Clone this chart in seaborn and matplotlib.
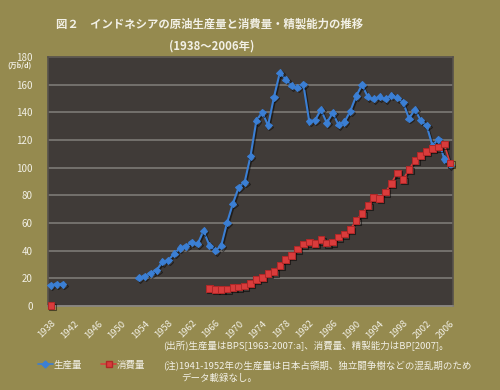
import numpy as np
import pandas as pd
import matplotlib
matplotlib.use("Agg")
import matplotlib.pyplot as plt
import matplotlib.patheffects as pe
from matplotlib.lines import Line2D
import seaborn as sns

# data (万b/d)
years = list(range(1938, 2007))

production = [15.2, 15.9, 15.7] + [None] * 12 + [
    20.4, 21.7, 23.6, 26.0, 32.0, 33.2, 38.0, 42.0, 43.3, 46.2,
    45.0, 54.4, 43.8, 40.0, 43.6, 60.2, 74.1, 86.0, 89.5, 108.3,
    134.0, 140.0, 130.5, 151.0, 168.7, 163.7, 159.3, 157.9, 160.3, 133.6,
    134.3, 142.0, 132.3, 139.6, 130.9, 133.0, 140.8, 151.8, 159.8, 151.1,
    149.7, 151.1, 149.7, 152.1, 150.4, 147.3, 135.5, 142.0, 134.3, 130.5,
    116.0, 120.6, 106.3, 102.0]

consumption = [0.5] + [None] * 26 + [
    12.8, 12.0, 12.0, 12.5, 13.5, 13.9, 14.6, 16.6, 19.3, 20.7,
    23.6, 24.8, 29.4, 33.7, 36.6, 41.2, 45.0, 46.4, 45.3, 47.9,
    45.7, 46.4, 50.0, 52.2, 55.4, 61.9, 66.9, 72.7, 78.5, 77.8,
    82.4, 88.8, 96.2, 91.5, 98.7, 105.4, 109.0, 111.9, 113.9, 115.0,
    117.0, 103.5]

xtick_years = list(range(1938, 2007, 4))

title1 = "図２　インドネシアの原油生産量と消費量・精製能力の推移"
title2 = "(1938～2006年)"
note_src = "(出所)生産量はBPS[1963-2007:a]、消費量、精製能力はBP[2007]。"
note1 = "(注)1941-1952年の生産量は日本占領期、独立闘争樹などの混乱期のため"
note2 = "データ載録なし。"

sns.set_style("white")
plt.rcParams["font.family"] = ["Noto Sans CJK JP", "DejaVu Sans"]

bg = "#958a4f"
plot_bg = "#403b38"
txt = "#f2f0e6"
blue = "#3b7fd4"
red = "#d93c3c"


def to_frame(vals):
    df = pd.DataFrame({"year": years, "value": vals})
    df["value"] = df["value"].astype(float)
    # separate runs so gaps are not bridged
    df["seg"] = df["value"].isna().cumsum()
    return df.dropna()


prod_df = to_frame(production)
cons_df = to_frame(consumption)

fig = plt.figure(figsize=(5, 3.9), dpi=100, facecolor=bg)
ax = fig.add_axes([0.096, 0.215, 0.81, 0.639])
ax.set_facecolor(plot_bg)

shadow = [pe.SimpleLineShadow(offset=(1.0, -1.0), shadow_color="black", alpha=0.5), pe.Normal()]

sns.lineplot(data=prod_df, x="year", y="value", units="seg", estimator=None,
             color=blue, lw=1.5, marker="D", markersize=3.6, markeredgecolor=blue,
             ax=ax, clip_on=False, zorder=3)
sns.lineplot(data=cons_df, x="year", y="value", units="seg", estimator=None,
             color=red, lw=1.2, marker="s", markersize=4.8, markeredgecolor="#b02828",
             ax=ax, clip_on=False, zorder=4)
for ln in ax.lines:
    ln.set_path_effects(shadow)

ax.set_xlim(1937.5, 2006.5)
ax.set_ylim(0, 180)
ax.set_yticks(range(0, 181, 20))
ax.yaxis.grid(True, color="#7d7a76", lw=1.2)
ax.set_axisbelow(True)
ax.set_xticks(xtick_years)
ax.set_xticks(years, minor=True)
ax.set_xticklabels([str(y) for y in xtick_years], rotation=45, ha="right",
                   rotation_mode="anchor")
ax.tick_params(axis="x", which="both", direction="in", length=2.5, color="#8a8784",
               labelsize=6.8, labelcolor=txt, pad=9)
ax.tick_params(axis="y", length=0, labelsize=7, labelcolor=txt, pad=11)
ax.set_xlabel("")
ax.set_ylabel("")
for s in ax.spines.values():
    s.set_color("#57524c")
    s.set_linewidth(1.2)
ax.spines["bottom"].set_color("#8a8784")

fig.text(0.42, 0.938, title1, ha="center", va="center", color=txt,
         fontsize=8.2, fontweight="bold")
fig.text(0.424, 0.882, title2, ha="center", va="center", color=txt,
         fontsize=8.2, fontweight="bold")
fig.text(0.04, 0.832, "(万b/d)", ha="center", va="center", color=txt,
         fontsize=5, fontweight="bold")

fig.text(0.326, 0.113, note_src, ha="left", va="center", color=txt, fontsize=6.8)
fig.text(0.326, 0.060, note1, ha="left", va="center", color=txt, fontsize=6.8)
fig.text(0.362, 0.030, note2, ha="left", va="center", color=txt, fontsize=6.8)

handles = [
    Line2D([], [], color=blue, marker="D", markersize=3.5, lw=1.2),
    Line2D([], [], color=red, marker="s", markersize=4.5, lw=1.2, markeredgecolor="#b02828"),
]
fig.legend(handles, ["生産量", "消費量"], loc="center left",
           bbox_to_anchor=(0.058, 0.064), ncol=2, frameon=False,
           handlelength=1.6, handletextpad=0.1, columnspacing=2.0,
           labelcolor=txt, prop={"size": 6.8})

fig.savefig("out.png", dpi=100, facecolor=bg)
